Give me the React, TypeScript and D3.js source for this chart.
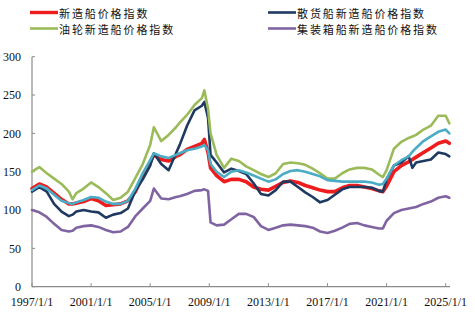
import React from "react";
import * as d3 from "d3";

const dates = [
  "1997-01", "1997-07", "1998-01", "1998-07", "1999-01", "1999-07", "1999-10", "2000-01", "2000-07",
  "2001-01", "2001-07", "2002-01", "2002-07", "2003-01", "2003-07", "2004-01", "2004-07", "2005-01",
  "2005-04", "2005-10", "2006-04", "2006-10", "2007-01", "2007-07", "2008-01", "2008-07", "2008-09",
  "2008-12", "2009-02", "2009-07", "2010-01", "2010-07", "2011-01", "2011-07", "2012-01", "2012-07",
  "2013-01", "2013-07", "2014-01", "2014-07", "2015-01", "2015-07", "2016-01", "2016-07", "2017-01",
  "2017-07", "2018-01", "2018-07", "2019-01", "2019-07", "2020-01", "2020-07", "2020-10", "2021-01",
  "2021-07", "2022-01", "2022-07", "2022-10", "2023-01", "2023-07", "2024-01", "2024-07", "2025-01",
  "2025-04",
];

// 新造船价格指数
const newbuildIndex = [
  128, 134, 130, 122, 114, 108, 108, 109, 111, 115, 112, 106, 107, 108, 112, 124, 145, 162,
  172, 166, 164, 170, 172, 179, 183, 187, 192, 175, 155, 145, 137, 140, 140, 137, 130, 127,
  126, 131, 136, 138, 136, 132, 129, 126, 124, 124, 129, 132, 132, 130, 128, 125, 124, 131,
  150, 158, 163, 166, 169, 175, 181, 187, 190, 187,
];
// 散货船新造船价格指数
const bulkIndex = [
  124, 130, 124, 108, 98, 92, 94, 98, 100, 98, 97, 90, 94, 96, 102, 125, 140, 158,
  174, 160, 152, 174, 185, 210, 230, 236, 241, 220, 172, 162, 149, 154, 151, 147, 135, 121,
  119, 126, 137, 137, 130, 123, 117, 110, 113, 120, 127, 130, 130, 130, 129, 125, 124, 140,
  158, 162, 170, 155, 162, 164, 166, 175, 173, 170,
];
// 油轮新造船价格指数
const tankerIndex = [
  150, 156, 148, 141, 134, 124, 114, 122, 128, 136, 130, 122, 113, 116, 124, 142, 160, 185,
  208, 190, 198, 208, 214, 224, 237, 246, 256, 232, 200, 172, 155, 167, 164, 157, 152, 147,
  143, 148, 160, 162, 161, 159, 154, 148, 141, 141, 148, 153, 155, 155, 153, 146, 143, 152,
  180, 189, 194, 196, 198, 205, 210, 223, 223, 213,
];
// 集装箱船新造船价格指数
const containerIndex = [
  100, 97, 91, 82, 74, 72, 73, 77, 79, 80, 78, 74, 71, 72, 78, 92, 102, 112,
  128, 115, 114, 117, 118, 121, 125, 126, 127, 125, 84, 80, 81, 88, 95, 95, 91, 79,
  74, 77, 80, 81, 80, 79, 77, 72, 70, 73, 77, 82, 83, 80, 78, 76, 76, 86,
  96, 100, 102, 103, 104, 108, 111, 116, 118, 116,
];
// fifth series (unlabelled in the legend)
const otherIndex = [
  126, 132, 128, 120, 112, 109, 108, 110, 113, 117, 116, 111, 108, 108, 112, 128, 148, 165,
  174, 170, 168, 172, 174, 178, 180, 183, 185, 178, 160, 150, 143, 150, 152, 149, 145, 141,
  137, 140, 147, 151, 152, 150, 147, 144, 139, 138, 137, 137, 137, 137, 136, 133, 134, 141,
  158, 165, 170, 176, 181, 190, 196, 202, 205, 200,
];

const yTicks = [0, 50, 100, 150, 200, 250, 300];
const xTickLabels = ["1997/1/1", "2001/1/1", "2005/1/1", "2009/1/1", "2013/1/1", "2017/1/1", "2021/1/1", "2025/1/1"];

const legendNames = ["新造船价格指数", "散货船新造船价格指数", "油轮新造船价格指数", "集装箱船新造船价格指数"];

const parse = d3.timeParse("%Y-%m");
const parseTick = d3.timeParse("%Y/%m/%d");

export default function App() {
  const x = d3
    .scaleTime()
    .domain([new Date(1997, 0, 1), new Date(2025, 0, 1)])
    .range([32, 445.7]);
  const y = d3.scaleLinear().domain([0, 300]).range([286.7, 56.7]);
  const dts = dates.map((d) => parse(d) as Date);

  const line = d3
    .line<number>()
    .x((_, i) => x(dts[i]))
    .y((v) => y(v));

  const series = [
    { values: newbuildIndex, color: "#EE1C1C", width: 3.6 },
    { values: bulkIndex, color: "#1F3A60", width: 2.6 },
    { values: tankerIndex, color: "#9BBB59", width: 2.6 },
    { values: containerIndex, color: "#8064A2", width: 2.6 },
    { values: otherIndex, color: "#4BACC6", width: 2.6 },
  ];

  const legendPos = [
    { x: 30, y: 12.5 },
    { x: 268, y: 12.5 },
    { x: 30, y: 28.5 },
    { x: 268, y: 28.5 },
  ];

  const axisColor = "#8c8c8c";
  const serif = "'Liberation Serif', 'Times New Roman', serif";
  const cjk = "'Noto Sans CJK SC', sans-serif";

  return (
    <svg
      width={475}
      height={316}
      style={{ position: "absolute", left: 0, top: 0, background: "#fff" }}
    >
      <rect x={0} y={0} width={475} height={316} fill="#fff" />
      {/* legend */}
      {legendNames.map((name, i) => (
        <g key={name}>
          <line
            x1={legendPos[i].x}
            x2={legendPos[i].x + 28}
            y1={legendPos[i].y}
            y2={legendPos[i].y}
            stroke={series[i].color}
            strokeWidth={i === 0 ? 3.4 : 2.6}
          />
          <text
            x={legendPos[i].x + 29}
            y={legendPos[i].y}
            dominantBaseline="central"
            fontFamily={cjk}
            fontSize={11}
            letterSpacing={1.9}
            fill="#111"
          >
            {name}
          </text>
        </g>
      ))}

      {/* y axis */}
      <line x1={32} x2={32} y1={y(300)} y2={y(0)} stroke={axisColor} strokeWidth={1.2} />
      {yTicks.map((t) => (
        <g key={t}>
          <line x1={32} x2={35} y1={y(t)} y2={y(t)} stroke={axisColor} strokeWidth={1} />
          <text
            x={21}
            y={y(t)}
            dy="0.35em"
            textAnchor="end"
            fontFamily={serif}
            fontSize={12}
            fill="#111"
          >
            {t}
          </text>
        </g>
      ))}

      {/* x axis */}
      <line x1={32} x2={450} y1={y(0)} y2={y(0)} stroke={axisColor} strokeWidth={1.2} />
      {xTickLabels.map((lab) => {
        const d = parseTick(lab) as Date;
        const px = x(d);
        return (
          <g key={lab}>
            <line x1={px} x2={px} y1={y(0)} y2={y(0) - 3.5} stroke={axisColor} strokeWidth={1} />
            <text
              x={px}
              y={306}
              textAnchor="middle"
              fontFamily={serif}
              fontSize={12}
              fill="#111"
            >
              {lab}
            </text>
          </g>
        );
      })}

      {/* lines */}
      {series.map((s, i) => (
        <path
          key={i}
          d={line(s.values) || ""}
          fill="none"
          stroke={s.color}
          strokeWidth={s.width}
          strokeLinejoin="round"
          strokeLinecap="round"
        />
      ))}
    </svg>
  );
}
